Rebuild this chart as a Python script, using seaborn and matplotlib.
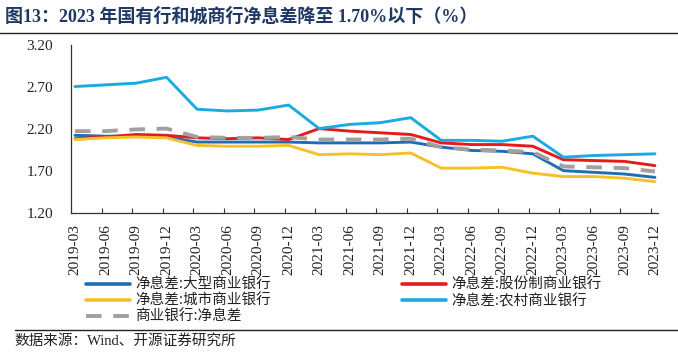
import matplotlib
matplotlib.use('Agg')
import matplotlib.pyplot as plt
import numpy as np
import pandas as pd
import seaborn as sns
from matplotlib.lines import Line2D

# Data
quarters = ['2019-03', '2019-06', '2019-09', '2019-12',
            '2020-03', '2020-06', '2020-09', '2020-12',
            '2021-03', '2021-06', '2021-09', '2021-12',
            '2022-03', '2022-06', '2022-09', '2022-12',
            '2023-03', '2023-06', '2023-09', '2023-12']
large_banks = [2.12, 2.11, 2.11, 2.10, 2.04, 2.04, 2.04, 2.04, 2.03, 2.03,
               2.03, 2.04, 1.98, 1.94, 1.93, 1.90, 1.70, 1.68, 1.66, 1.62]
joint_banks = [2.08, 2.10, 2.13, 2.12, 2.09, 2.08, 2.09, 2.07, 2.20, 2.17,
               2.15, 2.13, 2.03, 2.01, 2.01, 1.99, 1.83, 1.82, 1.81, 1.76]
city_banks = [2.07, 2.09, 2.10, 2.09, 2.00, 1.99, 1.99, 2.00, 1.89, 1.90,
              1.89, 1.91, 1.73, 1.73, 1.74, 1.67, 1.63, 1.63, 1.61, 1.57]
rural_banks = [2.70, 2.72, 2.74, 2.81, 2.43, 2.41, 2.42, 2.48, 2.20, 2.25,
               2.27, 2.33, 2.06, 2.06, 2.05, 2.11, 1.86, 1.88, 1.89, 1.90]
all_banks = [2.17, 2.17, 2.19, 2.20, 2.10, 2.09, 2.09, 2.10, 2.07, 2.07,
             2.07, 2.08, 1.98, 1.95, 1.94, 1.92, 1.75, 1.74, 1.73, 1.69]

series_names = ['净息差:大型商业银行', '净息差:股份制商业银行', '净息差:城市商业银行',
                '净息差:农村商业银行', '商业银行:净息差']
series_values = [large_banks, joint_banks, city_banks, rural_banks, all_banks]
colors = ['#1F6DB5', '#E41A1C', '#F6C02B', '#1BAAE2', '#A0A0A0']

sns.set_theme(style='white')
plt.rcParams['font.family'] = ['Liberation Serif', 'Noto Sans CJK SC', 'DejaVu Sans']
cjk = ['Noto Sans CJK SC', 'Liberation Serif']

fig = plt.figure(figsize=(6.78, 3.53), dpi=100)
ax = fig.add_axes([71 / 678, 1 - 212.7 / 353, 587 / 678, 168.2 / 353])

x = np.arange(len(quarters))
handles = []
for name, vals, col in zip(series_names, series_values, colors):
    df = pd.DataFrame({'x': x, 'y': vals})
    if name == '商业银行:净息差':
        sns.lineplot(data=df, x='x', y='y', ax=ax, color=col, linewidth=2.8,
                     dashes=False, zorder=4)
        ax.lines[-1].set_dashes([4, 3])
        handles.append(Line2D([], [], color=col, lw=2.8, dashes=[4, 3]))
    else:
        sns.lineplot(data=df, x='x', y='y', ax=ax, color=col, linewidth=2.1, zorder=3)
        handles.append(Line2D([], [], color=col, lw=2.6))

ax.set_xlim(-0.13, 19.1)
ax.set_ylim(1.2, 3.2)
ax.set_yticks([1.2, 1.7, 2.2, 2.7, 3.2])
ax.set_yticklabels([f'{v:.2f}' for v in [1.2, 1.7, 2.2, 2.7, 3.2]])
ax.set_xticks(x)
ax.set_xticklabels(quarters, rotation=90)
ax.set_xticks(x[1:] - 0.13, minor=True)
ax.set_xlabel('')
ax.set_ylabel('')

ax.tick_params(axis='x', which='major', length=0, pad=8, labelsize=11, colors='#222222')
ax.tick_params(axis='x', which='minor', length=3.5, direction='in', width=0.8,
               color='#333333', bottom=True)
ax.tick_params(axis='y', length=0, pad=13, labelsize=11, colors='#222222')
for s in ['top', 'right']:
    ax.spines[s].set_visible(False)
for s in ['left', 'bottom']:
    ax.spines[s].set_color('#333333')
    ax.spines[s].set_linewidth(0.9)
ax.grid(False)

# Legends: two manual columns
leg_kw = dict(frameon=False, handlelength=3.0, handletextpad=0.35, labelspacing=0.12,
              prop={'family': cjk, 'size': 10.5}, borderpad=0, borderaxespad=0)
leg1 = fig.legend([handles[0], handles[2], handles[4]],
                  [series_names[0], series_names[2], series_names[4]],
                  loc='upper left', bbox_to_anchor=(86 / 678, 1 - 278 / 353), **leg_kw)
leg2 = fig.legend([handles[1], handles[3]], [series_names[1], series_names[3]],
                  loc='upper left', bbox_to_anchor=(402 / 678, 1 - 278 / 353), **leg_kw)
for leg in (leg1, leg2):
    for t in leg.get_texts():
        t.set_color('#222222')

# Title, separators and source
fig.text(5 / 678, 1 - 17 / 353, '图13：2023 年国有行和城商行净息差降至 1.70%以下（%）',
         fontsize=13, fontweight='bold', color='#1F3864', va='center', ha='left',
         family=['Liberation Serif', 'Noto Sans CJK SC'])
fig.add_artist(Line2D([0, 1], [1 - 33 / 353] * 2, color='#222222', lw=1.0))
fig.add_artist(Line2D([15 / 678, 1], [1 - 330 / 353] * 2, color='#222222', lw=1.0))
fig.text(14 / 678, 1 - 341 / 353, '数据来源：Wind、开源证券研究所', fontsize=10.5,
         color='#222222', va='center', ha='left', family=['Liberation Serif', 'Noto Sans CJK SC'])

fig.savefig('out.png', dpi=100, facecolor='white')
